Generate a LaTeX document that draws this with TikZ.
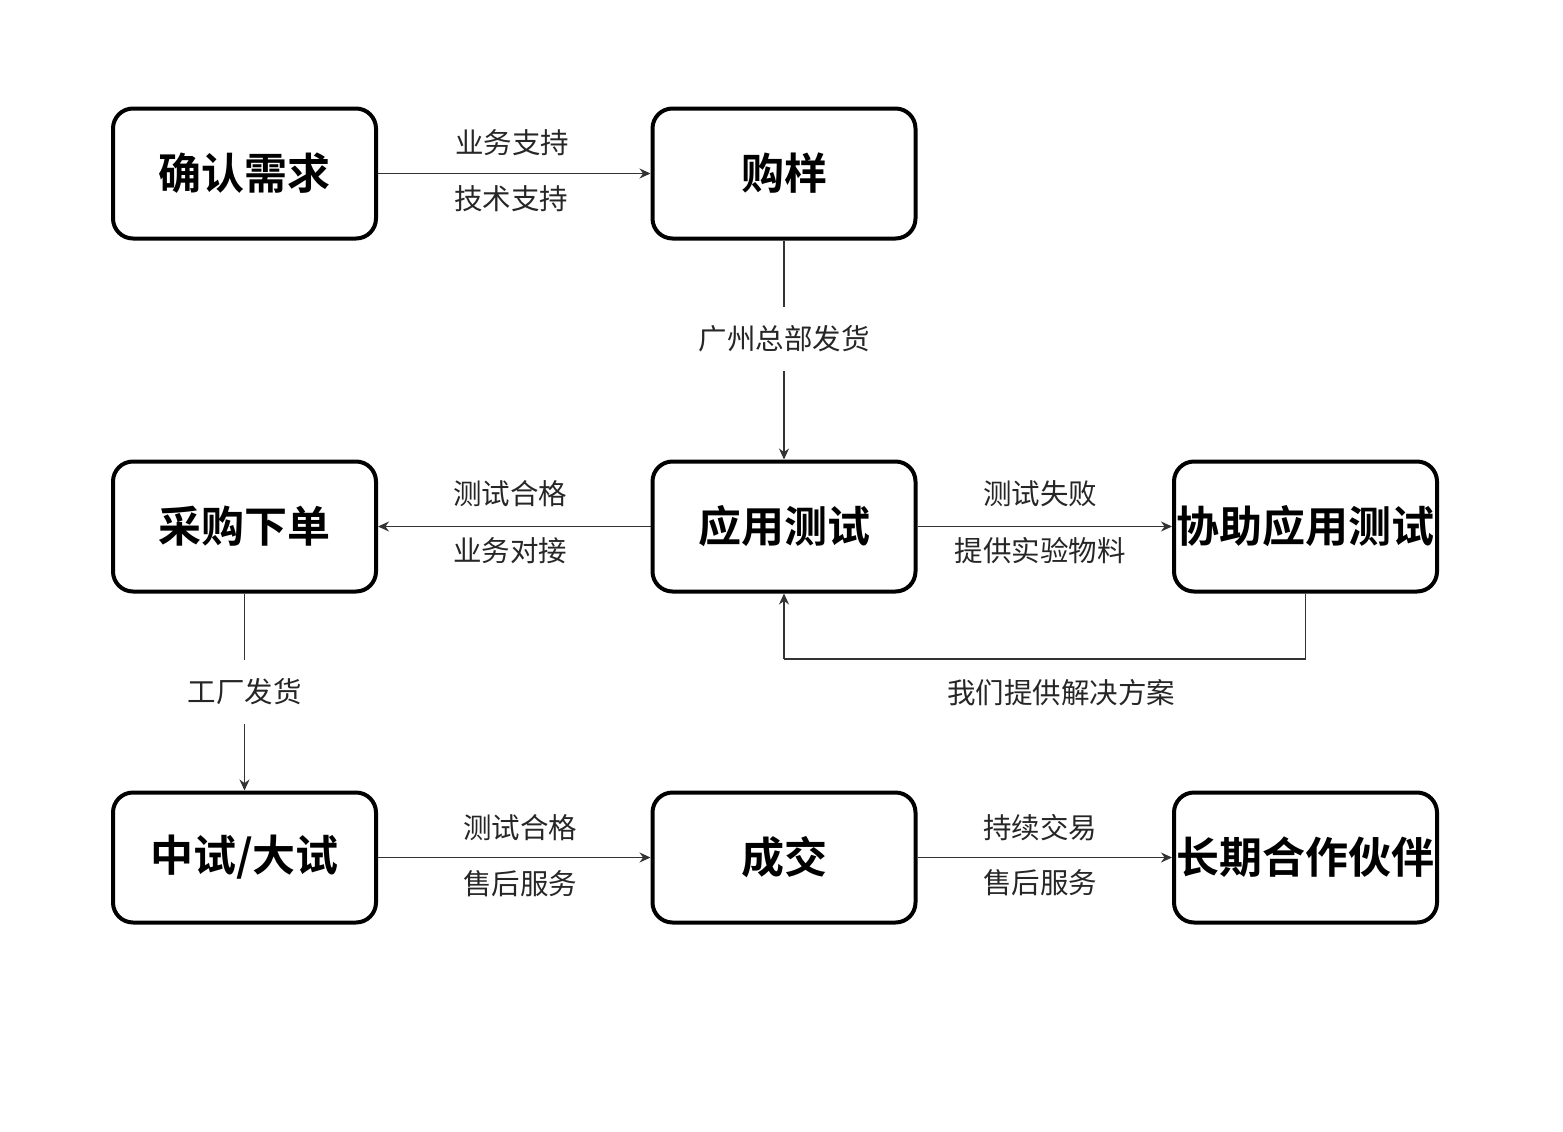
\documentclass[tikz,border=0pt]{standalone}
\usepackage{fontspec}
\setmainfont{Noto Sans CJK SC}
\newfontfamily\cjkb{Noto Sans CJK SC Bold}
\usetikzlibrary{arrows.meta}
\begin{document}
\begin{tikzpicture}[x=1pt,y=-1pt,
  box/.style={draw=black,line width=4pt,rounded corners=20pt,minimum width=263pt,minimum height=130pt,inner sep=0pt,font=\cjkb\fontsize{43}{47}\selectfont,anchor=center},
  conn/.style={draw=black!80,line width=1.4pt,-{Stealth[length=11pt,width=10pt]}},
  plain/.style={draw=black!80,line width=1.4pt},
  lbl/.style={font=\fontsize{28.5}{31}\selectfont,text=black!85,inner sep=0pt},
  gaplbl/.style={font=\fontsize{28.5}{31}\selectfont,text=black!85,fill=white,inner xsep=4pt,inner ysep=19pt}]
\useasboundingbox (0,0) rectangle (1563,1132);
\node[box] (a) at (244.5,173.5) {确认需求};
\node[box] (b) at (784,173.5) {购样};
\node[box] (c) at (244.5,526.5) {采购下单};
\node[box] (d) at (784,526.5) {应用测试};
\node[box] (e) at (1305.5,526.5) {协助应用测试};
\node[box] (f) at (244.5,857.5) {中试/大试};
\node[box] (g) at (784,857.5) {成交};
\node[box] (h) at (1305.5,857.5) {长期合作伙伴};
% row 1
\draw[conn] (a) -- (b);
\node[lbl] (l1) at (512,143) {业务支持};
\node[lbl] (l2) at (511,199) {技术支持};
% down
\draw[conn] (b) -- node[gaplbl,pos=0.45] (l3) {广州总部发货} (d);
% row 2
\draw[conn] (d) -- (c);
\node[lbl] (l4) at (510,494) {测试合格};
\node[lbl] (l5) at (510,551) {业务对接};
\draw[conn] (d) -- (e);
\node[lbl] (l6) at (1040,494) {测试失败};
\node[lbl] (l7) at (1040,551) {提供实验物料};
\coordinate (k1) at (1305.5,659);
\coordinate (k2) at (784,659);
\draw[plain] (e.south) -- (k1) -- (k2);
\draw[conn] (k2) -- (d.south);
\node[lbl] (l8) at (1061,693) {我们提供解决方案};
% down left
\draw[conn] (c) -- node[gaplbl,pos=0.5] (l9) {工厂发货} (f);
% row 3
\draw[conn] (f) -- (g);
\node[lbl] (l10) at (520,828) {测试合格};
\node[lbl] (l11) at (520,884) {售后服务};
\draw[conn] (g) -- (h);
\node[lbl] (l12) at (1040,828) {持续交易};
\node[lbl] (l13) at (1040,883) {售后服务};
\end{tikzpicture}
\end{document}
